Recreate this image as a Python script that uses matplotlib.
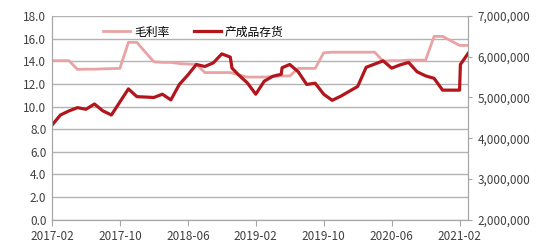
import numpy as np
import matplotlib
matplotlib.use('Agg')
import matplotlib.pyplot as plt

plt.rcParams['font.family'] = ['Noto Sans CJK SC', 'DejaVu Sans']

# month offsets from 2017-02
margin_months = list(range(50))
gross_margin = [14.05, 14.05, 14.05, 13.28, 13.3, 13.3, 13.33, 13.35, 13.37, 15.67,
                15.67, 14.8, 13.95, 13.9, 13.9, 13.8, 13.75, 13.73, 13.0, 13.0,
                13.0, 13.0, 12.8, 12.6, 12.6, 12.6, 12.65, 12.7, 12.7, 13.37,
                13.37, 13.37, 14.75, 14.8, 14.8, 14.8, 14.8, 14.8, 14.8, 14.0,
                14.05, 14.05, 14.1, 14.1, 14.1, 16.2, 16.2, 15.8, 15.4, 15.4]

inv_months = [0, 1, 2, 3, 4, 5, 6, 7, 8, 9, 10, 11, 12, 13, 14, 15, 16, 17, 18, 19,
              20, 21, 21.2, 22, 23, 24, 25, 26, 27, 27.1, 28, 29, 30, 31, 32, 33,
              34, 35, 36, 37, 38, 39, 40, 41, 42, 43, 44, 45, 46, 47, 48, 48.1, 49]
inventory = [4.32, 4.57, 4.67, 4.75, 4.71, 4.84, 4.67, 4.57, 4.89, 5.21, 5.02, 5.01,
             5.0, 5.08, 4.94, 5.32, 5.55, 5.81, 5.76, 5.85, 6.07, 5.99, 5.72, 5.55,
             5.36, 5.08, 5.4, 5.52, 5.57, 5.73, 5.81, 5.63, 5.32, 5.35, 5.08, 4.93,
             5.03, 5.15, 5.27, 5.74, 5.82, 5.9, 5.72, 5.8, 5.86, 5.63, 5.53, 5.47,
             5.18, 5.18, 5.18, 5.81, 6.08]
inventory = [v * 1e6 for v in inventory]

tick_pos = [0, 8, 16, 24, 32, 40, 48]
tick_labels = ['2017-02', '2017-10', '2018-06', '2019-02', '2019-10', '2020-06', '2021-02']

pink = '#E9A3A5'
red = '#B2151B'
grid_c = '#B3B3B3'

fig = plt.figure(figsize=(5.5, 2.46), dpi=100)
ax = fig.add_axes([0.0945, 0.107, 0.7565, 0.828])
ax2 = ax.twinx()

l1, = ax.plot(margin_months, gross_margin, color=pink, lw=2, label='毛利率')
l2, = ax2.plot(inv_months, inventory, color=red, lw=2.3, label='产成品存货')

ax.set_xlim(0, 49)
ax.set_ylim(0, 18)
ax.set_yticks(np.arange(0, 18.1, 2))
ax.set_yticklabels(['%.1f' % v for v in np.arange(0, 18.1, 2)])
ax2.set_ylim(2e6, 7e6)
ax2.set_yticks(np.arange(2e6, 7.1e6, 1e6))
ax2.set_yticklabels(['{:,.0f}'.format(v) for v in np.arange(2e6, 7.1e6, 1e6)])
ax.set_xticks(tick_pos)
ax.set_xticklabels(tick_labels)

ax.grid(axis='y', color=grid_c, lw=1)
ax.set_axisbelow(True)
for a in (ax, ax2):
    a.spines['top'].set_visible(False)
    for s in ('left', 'right', 'bottom'):
        a.spines[s].set_color('#A6A6A6')
ax.tick_params(axis='y', length=0, labelsize=8.5, colors='#404040', pad=4)
ax.tick_params(axis='x', length=4, color='#A6A6A6', labelsize=8.5, colors='#404040')
ax2.tick_params(axis='y', length=3, color='#A6A6A6', labelsize=8.5, colors='#404040', pad=4)

ax.legend(handles=[l1, l2], loc='center left', bbox_to_anchor=(0.123, 0.921), ncol=2,
          frameon=False, fontsize=8.5, handlelength=2.3, handletextpad=0.3,
          columnspacing=2.1, borderaxespad=0, borderpad=0)

fig.savefig('out.png', dpi=100)
